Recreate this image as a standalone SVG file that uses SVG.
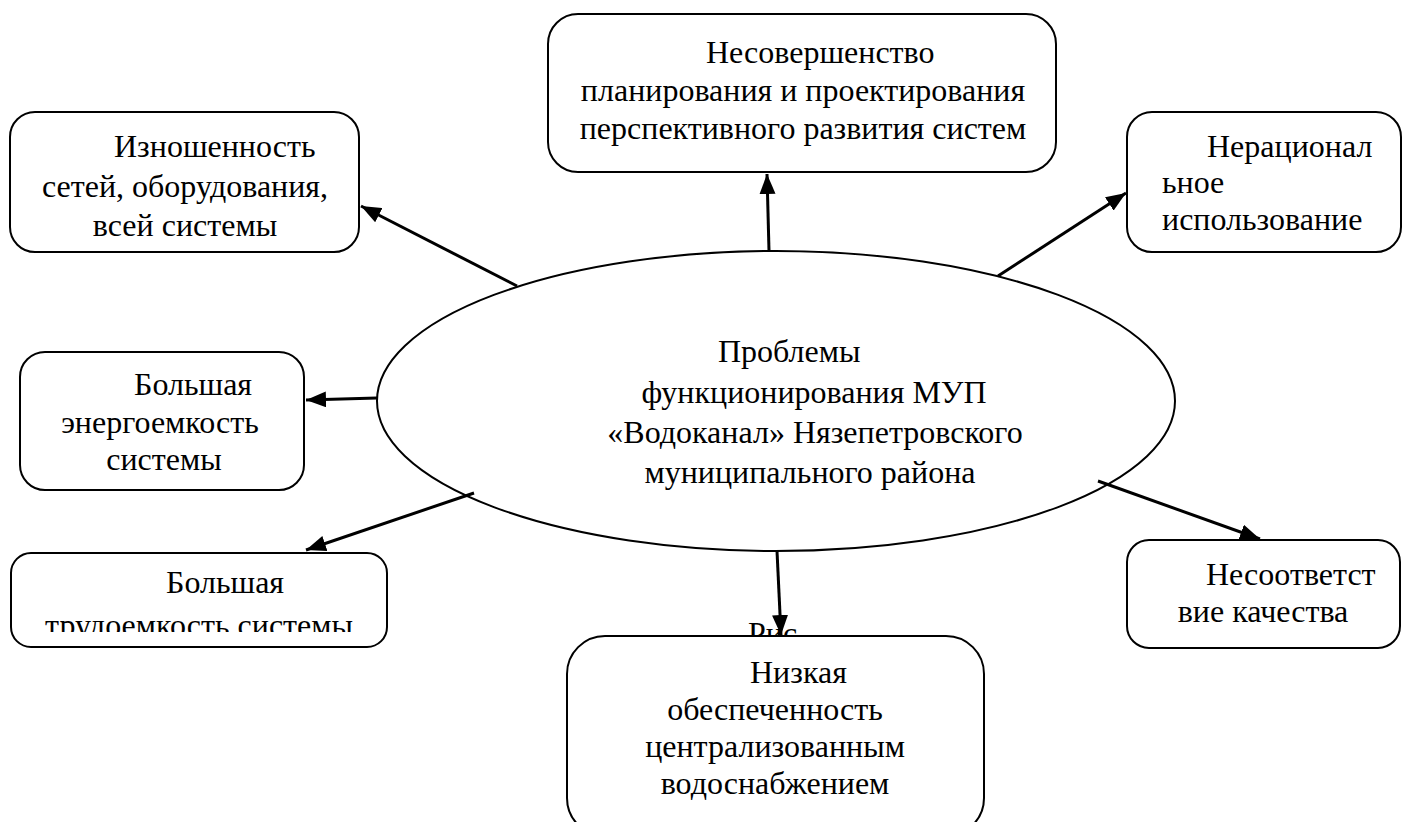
<svg xmlns="http://www.w3.org/2000/svg" width="1403" height="822" viewBox="0 0 1403 822">
<defs>
<style>
.box{fill:#fff;stroke:#000;stroke-width:2}
.t{font-family:"Liberation Serif","Times New Roman",serif;font-size:32px;fill:#000}
.m{text-anchor:middle}
.c{font-family:"Liberation Serif","Times New Roman",serif;font-size:32px;fill:#000}
.arr{stroke:#000;stroke-width:3;fill:none;marker-end:url(#ah)}
</style>
<marker id="ah" markerUnits="userSpaceOnUse" markerWidth="22" markerHeight="16" refX="20" refY="8" orient="auto">
<path d="M0,0 L20,8 L0,16 Z" fill="#000"/>
</marker>
<clipPath id="clipBL"><rect x="10" y="552" width="380" height="80"/></clipPath>
</defs>
<rect width="1403" height="822" fill="#fff"/>

<text class="t" x="748" y="644">Рис</text>

<g id="connectors">
<line class="arr" x1="769" y1="251" x2="767" y2="174"/>
<line class="arr" x1="517" y1="286" x2="361" y2="206"/>
<line class="arr" x1="998" y1="276" x2="1126" y2="193"/>
<line class="arr" x1="377" y1="398" x2="306" y2="400"/>
<line class="arr" x1="474" y1="493" x2="306" y2="550"/>
<line class="arr" x1="777" y1="551" x2="781" y2="635"/>
<line class="arr" x1="1098" y1="481" x2="1260" y2="539"/>
</g>

<g id="center">
<ellipse cx="776" cy="401" rx="399" ry="150" fill="none" stroke="#000" stroke-width="2"/>
<text class="c" x="718" y="362">Проблемы</text>
<text class="c m" x="814" y="403">функционирования МУП</text>
<text class="c m" x="815" y="443">«Водоканал» Нязепетровского</text>
<text class="c m" x="810" y="483">муниципального района</text>
</g>

<g id="n-top">
<rect class="box" x="548" y="14" width="508" height="158" rx="30"/>
<text class="t" x="706" y="63">Несовершенство</text>
<text class="t m" x="803" y="101">планирования и проектирования</text>
<text class="t m" x="803" y="139">перспективного развития систем</text>
</g>

<g id="n-wear">
<rect class="box" x="10" y="112" width="349" height="140" rx="25"/>
<text class="t" x="114" y="157">Изношенность</text>
<text class="t m" x="185" y="197">сетей, оборудования,</text>
<text class="t m" x="185" y="236">всей системы</text>
</g>

<g id="n-irr">
<rect class="box" x="1127" y="112" width="274" height="140" rx="25"/>
<text class="t" x="1207" y="157">Нерационал</text>
<text class="t" x="1162" y="193">ьное</text>
<text class="t" x="1162" y="230">использование</text>
</g>

<g id="n-energy">
<rect class="box" x="20" y="352" width="284" height="138" rx="25"/>
<text class="t" x="134" y="395">Большая</text>
<text class="t m" x="160" y="433">энергоемкость</text>
<text class="t m" x="164" y="470">системы</text>
</g>

<g id="n-labor">
<rect class="box" x="11" y="553" width="376" height="94" rx="20"/>
<g clip-path="url(#clipBL)">
<text class="t" x="166" y="593">Большая</text>
<text class="t" x="45" y="636">трудоемкость системы</text>
</g>
</g>

<g id="n-quality">
<rect class="box" x="1127" y="540" width="273" height="108" rx="22"/>
<text class="t" x="1206" y="585">Несоответст</text>
<text class="t m" x="1263" y="622">вие качества</text>
</g>

<g id="n-low">
<rect class="box" x="567" y="636" width="417" height="200" rx="38"/>
<text class="t" x="750" y="683">Низкая</text>
<text class="t m" x="775" y="720">обеспеченность</text>
<text class="t m" x="775" y="757">централизованным</text>
<text class="t m" x="775" y="794">водоснабжением</text>
</g>
</svg>
